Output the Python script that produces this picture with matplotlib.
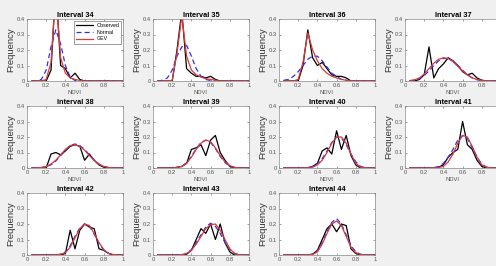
import matplotlib.pyplot as plt

plt.rcParams['font.family'] = ['Liberation Sans', 'DejaVu Sans']

# bin centres (NDVI)
ndvi_bins = [0.05, 0.10, 0.15, 0.20, 0.25, 0.30, 0.35, 0.40, 0.45, 0.50,
             0.55, 0.60, 0.65, 0.70, 0.75, 0.80, 0.85, 0.90, 0.95, 1.00]

intervals = [34, 35, 36, 37, 38, 39, 40, 41, 42, 43, 44]

observed = {
    34: [0, 0, 0, 0, 0.07, 0.62, 0.10, 0.08, 0.02, 0.05, 0.01, 0, 0, 0, 0, 0, 0, 0, 0, 0],
    35: [0, 0, 0, 0, 0.20, 0.45, 0.08, 0.05, 0.03, 0.03, 0.02, 0.03, 0.01, 0, 0, 0, 0, 0, 0, 0],
    36: [0, 0, 0, 0, 0.10, 0.33, 0.15, 0.10, 0.12, 0.08, 0.04, 0.03, 0.03, 0.02, 0, 0, 0, 0, 0, 0],
    37: [0, 0, 0.01, 0.04, 0.22, 0.02, 0.08, 0.11, 0.15, 0.13, 0.10, 0.06, 0.04, 0.05, 0.02, 0.005, 0, 0, 0, 0],
    38: [0, 0, 0, 0, 0.09, 0.10, 0.085, 0.11, 0.14, 0.15, 0.14, 0.05, 0.09, 0.05, 0.02, 0.005, 0, 0, 0, 0],
    39: [0, 0, 0, 0, 0.005, 0.01, 0.03, 0.12, 0.13, 0.15, 0.08, 0.18, 0.21, 0.10, 0.05, 0.01, 0, 0, 0, 0],
    40: [0, 0, 0, 0, 0, 0, 0.01, 0.03, 0.11, 0.13, 0.09, 0.24, 0.12, 0.21, 0.08, 0.02, 0, 0, 0, 0],
    41: [0, 0, 0, 0, 0, 0, 0.005, 0.02, 0.07, 0.10, 0.12, 0.30, 0.15, 0.12, 0.05, 0.01, 0, 0, 0, 0],
    42: [0, 0, 0, 0, 0, 0, 0, 0.01, 0.16, 0.04, 0.16, 0.20, 0.18, 0.17, 0.04, 0.03, 0.01, 0, 0, 0],
    43: [0, 0, 0, 0, 0, 0, 0.005, 0.03, 0.10, 0.17, 0.14, 0.20, 0.10, 0.20, 0.08, 0.02, 0, 0, 0, 0],
    44: [0, 0, 0, 0, 0, 0, 0.005, 0.03, 0.10, 0.17, 0.20, 0.15, 0.20, 0.19, 0.04, 0.01, 0, 0, 0, 0],
}

normal_fit = {
    34: [0, 0, 0.01, 0.07, 0.22, 0.33, 0.24, 0.10, 0.025, 0.003, 0, 0, 0, 0, 0, 0, 0, 0, 0, 0],
    35: [0, 0.005, 0.02, 0.07, 0.16, 0.22, 0.23, 0.16, 0.08, 0.03, 0.01, 0.003, 0, 0, 0, 0, 0, 0, 0, 0],
    36: [0.005, 0.01, 0.03, 0.06, 0.10, 0.14, 0.16, 0.16, 0.13, 0.09, 0.05, 0.03, 0.01, 0.005, 0, 0, 0, 0, 0, 0],
    37: [0, 0.005, 0.015, 0.035, 0.065, 0.10, 0.13, 0.145, 0.145, 0.13, 0.10, 0.07, 0.04, 0.02, 0.008, 0.003, 0, 0, 0, 0],
    38: [0, 0, 0.003, 0.01, 0.02, 0.045, 0.08, 0.115, 0.145, 0.155, 0.145, 0.12, 0.085, 0.05, 0.025, 0.01, 0.003, 0, 0, 0],
    39: [0, 0, 0, 0, 0.003, 0.01, 0.035, 0.075, 0.125, 0.165, 0.18, 0.165, 0.125, 0.075, 0.035, 0.012, 0.003, 0, 0, 0],
    40: [0, 0, 0, 0, 0, 0.003, 0.01, 0.03, 0.06, 0.11, 0.165, 0.20, 0.195, 0.15, 0.09, 0.04, 0.01, 0.002, 0, 0],
    41: [0, 0, 0, 0, 0, 0.002, 0.01, 0.03, 0.07, 0.12, 0.18, 0.21, 0.19, 0.13, 0.07, 0.025, 0.005, 0, 0, 0],
    42: [0, 0, 0, 0, 0, 0, 0.005, 0.02, 0.06, 0.12, 0.175, 0.20, 0.185, 0.135, 0.075, 0.03, 0.01, 0.002, 0, 0],
    43: [0, 0, 0, 0, 0, 0.002, 0.01, 0.035, 0.08, 0.13, 0.18, 0.205, 0.185, 0.14, 0.08, 0.035, 0.01, 0.002, 0, 0],
    44: [0, 0, 0, 0, 0, 0, 0.005, 0.025, 0.08, 0.15, 0.21, 0.235, 0.20, 0.13, 0.06, 0.02, 0.005, 0, 0, 0],
}

gev_fit = {
    34: [0, 0, 0, 0.01, 0.12, 0.58, 0.15, 0.05, 0.02, 0.01, 0.004, 0, 0, 0, 0, 0, 0, 0, 0, 0],
    35: [0, 0, 0, 0.005, 0.18, 0.42, 0.16, 0.07, 0.04, 0.025, 0.015, 0.01, 0.005, 0, 0, 0, 0, 0, 0, 0],
    36: [0, 0, 0, 0.01, 0.12, 0.31, 0.20, 0.13, 0.08, 0.05, 0.03, 0.02, 0.01, 0.005, 0, 0, 0, 0, 0, 0],
    37: [0.003, 0.008, 0.02, 0.045, 0.08, 0.115, 0.14, 0.15, 0.145, 0.125, 0.095, 0.065, 0.04, 0.02, 0.01, 0.004, 0, 0, 0, 0],
    38: [0, 0, 0.003, 0.01, 0.025, 0.05, 0.085, 0.12, 0.145, 0.15, 0.14, 0.115, 0.08, 0.05, 0.025, 0.01, 0.003, 0, 0, 0],
    39: [0, 0, 0, 0, 0.003, 0.01, 0.03, 0.07, 0.12, 0.16, 0.18, 0.17, 0.13, 0.08, 0.04, 0.015, 0.005, 0, 0, 0],
    40: [0, 0, 0, 0, 0, 0, 0.005, 0.02, 0.05, 0.10, 0.16, 0.20, 0.20, 0.16, 0.09, 0.03, 0.005, 0, 0, 0],
    41: [0, 0, 0, 0, 0, 0, 0.003, 0.01, 0.04, 0.09, 0.16, 0.21, 0.20, 0.14, 0.07, 0.02, 0.005, 0, 0, 0],
    42: [0, 0, 0, 0, 0, 0, 0.005, 0.015, 0.05, 0.11, 0.17, 0.20, 0.19, 0.14, 0.08, 0.035, 0.01, 0.003, 0, 0],
    43: [0, 0, 0, 0, 0, 0, 0.01, 0.03, 0.07, 0.12, 0.17, 0.195, 0.20, 0.16, 0.10, 0.04, 0.01, 0, 0, 0],
    44: [0, 0, 0, 0, 0, 0, 0.003, 0.02, 0.07, 0.14, 0.20, 0.22, 0.19, 0.12, 0.05, 0.015, 0.003, 0, 0, 0],
}

x_ticks = [0, 0.2, 0.4, 0.6, 0.8, 1]
x_ticklabels = ['0', '0.2', '0.4', '0.6', '0.8', '1']
y_ticks = [0, 0.1, 0.2, 0.3, 0.4]
y_ticklabels = ['0', '0.1', '0.2', '0.3', '0.4']

W, H = 496, 266
fig = plt.figure(figsize=(W / 100, H / 100), dpi=100, facecolor='#f0f0f0')

col_left = [27, 153, 279, 405]
row_top = [19, 106, 193]
ax_w, ax_h = 96, 62

for i, iv in enumerate(intervals):
    r, c = divmod(i, 4)
    ax = fig.add_axes([col_left[c] / W, 1 - (row_top[r] + ax_h) / H, ax_w / W, ax_h / H])
    ax.plot(ndvi_bins, observed[iv], color='black', lw=0.9, label='Observed')
    ax.plot(ndvi_bins, normal_fit[iv], color='#2f2ff0', lw=0.9, ls=(0, (4, 2.5)), label='Normal')
    ax.plot(ndvi_bins, gev_fit[iv], color='#d93a3a', lw=0.9, label='GEV')
    ax.set_xlim(0, 1)
    ax.set_ylim(0, 0.4)
    ax.set_xticks(x_ticks)
    # last column runs off the right edge, so its "1" label is not shown
    ax.set_xticklabels(x_ticklabels if c < 3 else x_ticklabels[:-1] + [''])
    ax.set_yticks(y_ticks)
    ax.set_yticklabels(y_ticklabels)
    ax.tick_params(direction='in', length=1.5, width=0.4, labelsize=4.2,
                   colors='#555555', pad=1.5, top=True, right=True)
    for sp in ax.spines.values():
        sp.set_color('#8a8a8a')
        sp.set_linewidth(0.5)
    ax.set_title(f'Interval {iv}', fontsize=5.3, fontweight='bold', pad=1.5)
    ax.set_ylabel('Frequency', fontsize=6.8, color='#333333', labelpad=1.0)
    if r < 2:
        ax.set_xlabel('NDVI', fontsize=4.2, color='#555555', labelpad=1.5)
    if iv == 34:
        leg = ax.legend(loc='upper right', fontsize=3.8, handlelength=3.2,
                        borderpad=0.4, labelspacing=0.35, handletextpad=0.6,
                        borderaxespad=0.3,
                        fancybox=False, edgecolor='#555555', framealpha=1)
        leg.get_frame().set_linewidth(0.4)

fig.savefig('out.png', dpi=100, facecolor=fig.get_facecolor())
